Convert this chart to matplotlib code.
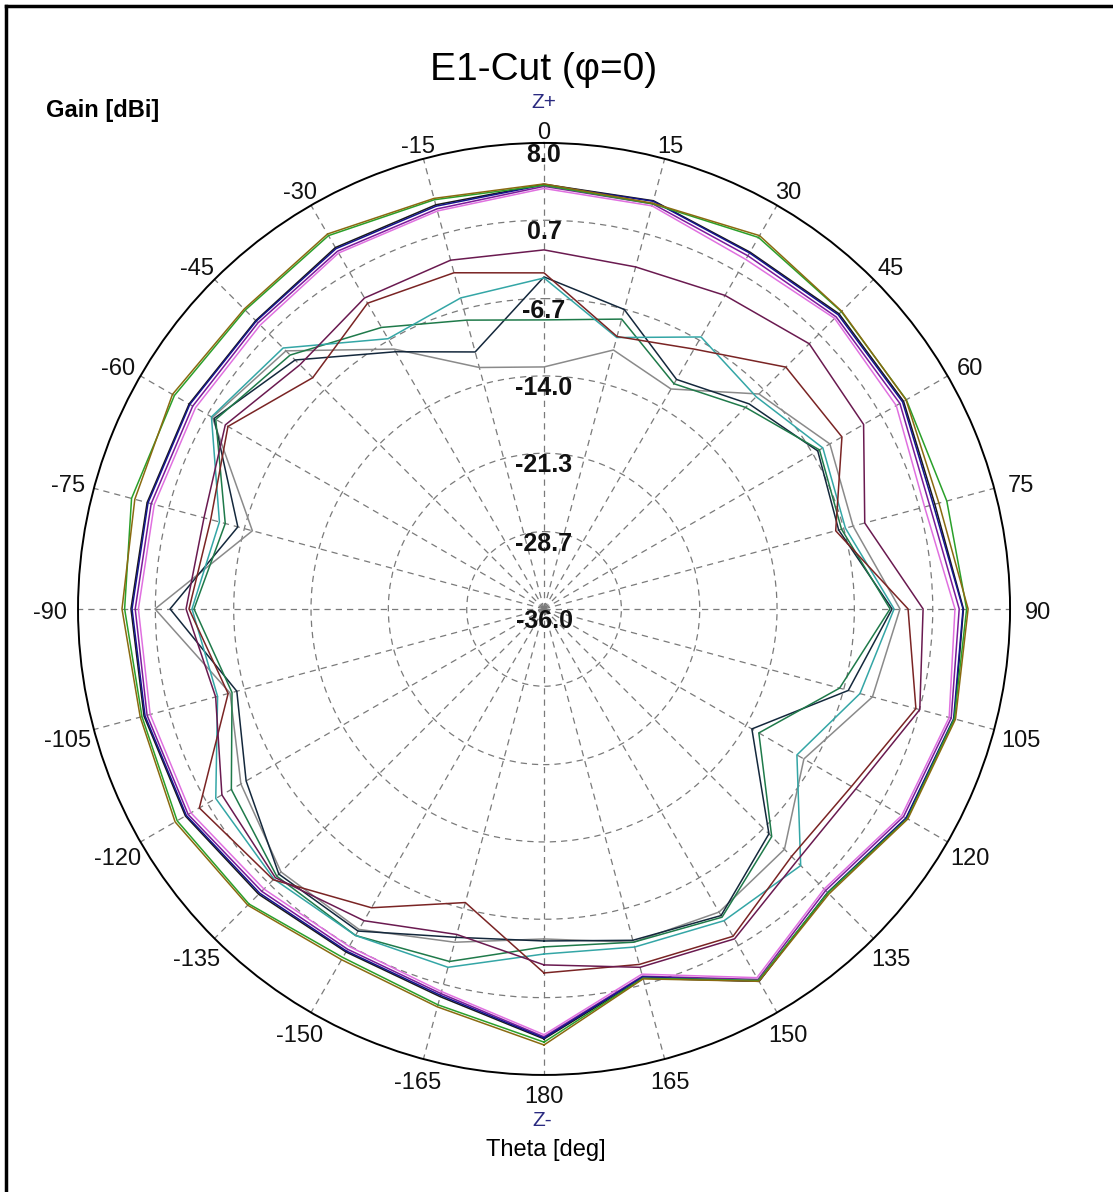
import numpy as np
import matplotlib
matplotlib.use("Agg")
import matplotlib.pyplot as plt
from matplotlib.lines import Line2D

plt.rcParams["font.family"] = ["Liberation Sans", "DejaVu Sans"]

# theta in degrees, gain in dBi at each 15 deg step
theta = list(range(-180, 180, 15))

olive = [5.17, 2.90, 2.24, 3.56, 4.22, 3.47, 3.85, 4.0, 4.51, 4.04, 4.88, 4.13,
         4.13, 3.66, 4.70, 3.75, 3.47, 2.6, 4.04, 4.22, 3.66, 2.05, 4.60, 0.16]
green = [4.9, 2.7, 2.0, 3.4, 4.0, 3.3, 3.6, 4.32, 4.3, 3.9, 4.7, 4.0,
         4.0, 3.6, 4.5, 3.7, 3.5, 3.37, 3.9, 4.1, 3.6, 1.9, 4.5, 0.1]
navy = [4.51, 1.77, 1.30, 1.96, 3.00, 3.00, 2.90, 2.71, 2.62, 2.43, 3.28, 3.37,
        4.04, 3.85, 2.81, 3.28, 3.09, 2.05, 3.56, 4.04, 3.47, 1.86, 4.60, -0.03]
black = [4.6, 1.9, 1.4, 2.1, 3.1, 3.1, 3.0, 2.8, 2.7, 2.5, 3.4, 3.5,
         4.1, 3.9, 2.9, 3.4, 3.2, 2.2, 3.6, 4.1, 3.5, 1.9, 4.6, 0.1]
violet = [4.2, 1.4, 0.8, 1.4, 2.5, 2.5, 2.3, 2.1, 2.0, 1.9, 2.8, 2.9,
          3.7, 3.4, 2.1, 2.8, 2.4, 1.2, 2.8, 3.6, 3.0, 1.4, 4.2, -0.3]
purple = [4.4, 1.6, 1.1, 1.7, 2.8, 2.8, 2.6, 2.4, 2.3, 2.2, 3.0, 3.1,
          3.9, 3.6, 2.5, 3.0, 2.8, 1.7, 3.2, 3.8, 3.2, 1.6, 4.4, -0.1]
plum = [-2.39, -4.18, -2.01, -0.12, -0.88, -3.90, -2.20, -2.76, -1.25, -3.4, -2.10, -1.91,
        -2.10, -2.57, -1.82, -0.59, -1.16, -4.65, -0.21, 0.73, -2.01, -2.29, -0.03, -0.97]
maroon = [-1.63, -7.30, -3.42, 0.16, 1.58, -5.12, -2.48, -3.42, -1.54, -5.12, -2.67, -3.14,
          -4.27, -9.37, -7.67, -3.71, -3.52, -7.49, -1.63, 0.35, -2.48, -2.95, -0.31, -1.25]
teal = [-3.42, -0.97, -0.40, 0.07, -0.21, -4.09, -2.76, -4.27, 0.26, -1.16, -6.54, -5.60,
        -4.75, -9.47, -6.35, -7.67, -5.60, -6.54, -2.95, -5.12, -8.43, -1.73, -2.01, -2.95]
dkgreen = [-4.09, -1.54, -0.40, -0.31, -1.91, -5.50, -2.95, -4.84, -0.21, -2.10, -5.31, -7.77,
           -8.71, -7.67, -11.45, -9.09, -5.97, -6.92, -3.33, -7.11, -12.58, -5.60, -2.39, -3.42]
dknavy = [-4.65, -3.90, -0.88, -0.59, -3.52, -5.97, -0.69, -6.07, -0.03, -2.76, -7.96, -10.88,
          -4.65, -6.73, -10.98, -8.62, -6.16, -7.20, -3.14, -6.26, -13.34, -5.97, -2.57, -3.61]
gray = [-4.84, -3.42, -1.06, -0.88, -2.95, -5.31, 0.73, -7.49, 0.16, -1.54, -7.67, -12.40,
        -13.15, -10.69, -12.02, -7.30, -4.84, -5.79, -2.39, -3.90, -7.67, -3.90, -2.95, -3.42]

series = [
    (gray, "#8a8a8a"),
    (dknavy, "#14283c"),
    (dkgreen, "#1f7a4a"),
    (teal, "#34a6a6"),
    (maroon, "#7a2424"),
    (plum, "#6a1a50"),
    (violet, "#e070e0"),
    (purple, "#7a1a9a"),
    (black, "#1a1a1a"),
    (navy, "#14148c"),
    (green, "#2aa02a"),
    (olive, "#8a6a10"),
]

ring_values = [8.0, 0.7, -6.7, -14.0, -21.3, -28.7, -36.0]
rmin, rmax = -36.0, 8.0

fig = plt.figure(figsize=(11.13, 11.92), dpi=100)
fig.patch.set_facecolor("white")

ax = fig.add_axes([0.0701, 0.0982, 0.8374, 0.7819], projection="polar")
ax.set_theta_zero_location("N")
ax.set_theta_direction(-1)
ax.set_rlim(rmin, rmax)
ax.set_xticks(np.deg2rad(np.arange(0, 360, 15)))
ax.set_yticks(ring_values[1:-1])
ax.set_xticklabels([])
ax.set_yticklabels([])
ax.grid(True, color="#7a7a7a", linestyle=(0, (5, 4)), linewidth=0.9)
ax.spines["polar"].set_color("black")
ax.spines["polar"].set_linewidth(1.4)

t = np.deg2rad(theta + [theta[0]])
for vals, col in series:
    ax.plot(t, vals + [vals[0]], color=col, linewidth=1.1)

# gain ring labels along the 0 deg spoke
for rv in ring_values:
    ax.annotate(f"{rv:.1f}", xy=(0, rv), xytext=(0, -12), textcoords="offset pixels",
                ha="center", va="center", fontsize=18, fontweight="bold", color="#111111")

# theta labels around the rim
for a in range(-165, 181, 15):
    ang = np.deg2rad(a)
    r_lab = rmax + 1.7 + 0.9 * abs(np.sin(ang))
    dy = -4 - 4 * max(np.cos(ang), 0)
    ax.annotate(str(a), xy=(ang, r_lab), xytext=(0, dy), textcoords="offset pixels",
                ha="center", va="center", fontsize=17, color="#111111",
                annotation_clip=False)

W, H = 1113, 1192
fig.text(544 / W, 1 - 70 / H, "E1-Cut (\u03c6=0)", ha="center", va="center", fontsize=28)
fig.text(46 / W, 1 - 110 / H, "Gain [dBi]", ha="left", va="center", fontsize=17,
         fontweight="bold")
fig.text(544 / W, 1 - 103 / H, "Z+", ha="center", va="center", fontsize=15, color="#2a2a80")
fig.text(542 / W, 1 - 1121 / H, "Z-", ha="center", va="center", fontsize=15, color="#2a2a80")
fig.text(546 / W, 1 - 1150 / H, "Theta [deg]", ha="center", va="center", fontsize=17)

# window frame on top and left edges
fig.add_artist(Line2D([6 / W, 1], [1 - 6 / H, 1 - 6 / H], color="black", linewidth=2.5,
                      transform=fig.transFigure))
fig.add_artist(Line2D([6 / W, 6 / W], [0, 1 - 6 / H], color="black", linewidth=2.5,
                      transform=fig.transFigure))

fig.savefig("out.png", dpi=100, facecolor="white")
